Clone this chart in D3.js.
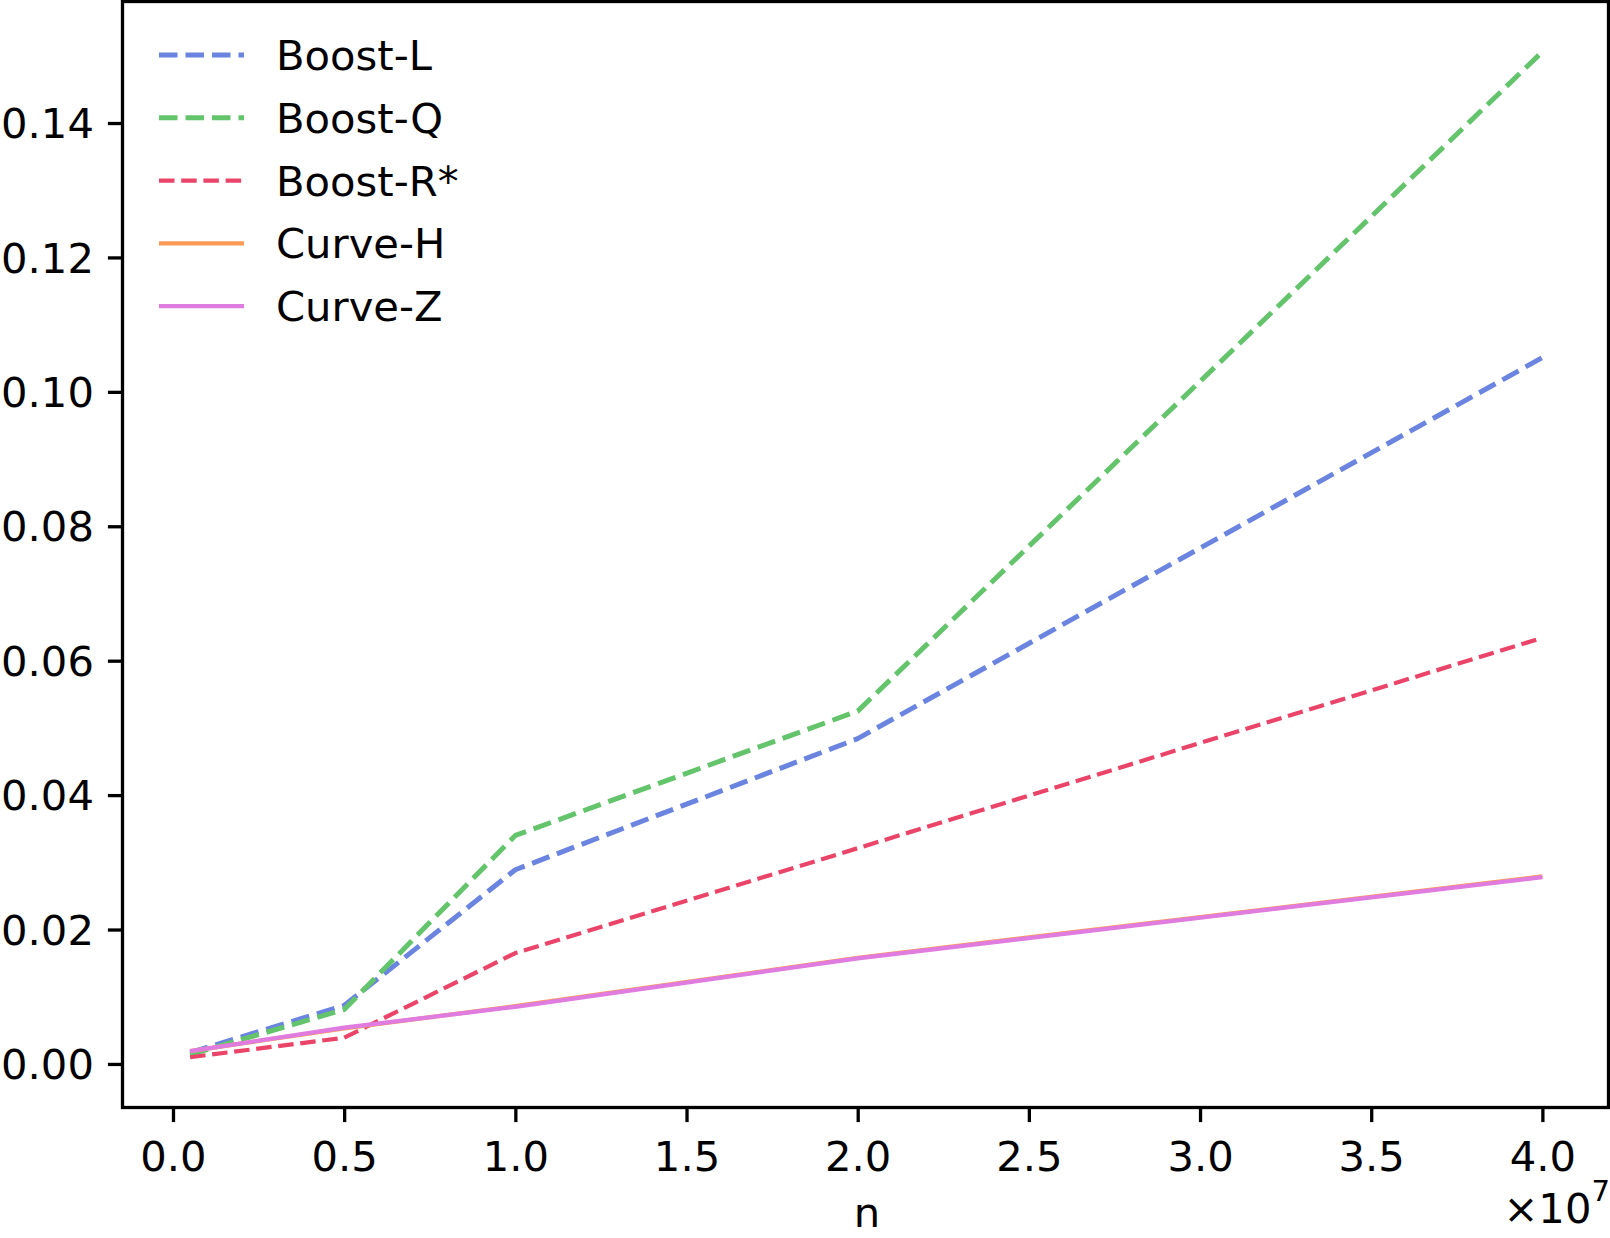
<!DOCTYPE html>
<html>
<head>
<meta charset="utf-8">
<script src="https://cdn.jsdelivr.net/npm/d3@7"></script>
<style>
    body { margin: 0; background: #fff; }
    text { font-family: "DejaVu Sans", sans-serif; fill: #000; }
</style>
</head>
<body>
<svg id="chart" width="1610" height="1238"></svg>
<script>
// data
const nValues = [500000, 5000000, 10000000, 20000000, 40000000];
const boostL = [0.0017, 0.0087, 0.0289, 0.0484, 0.1051];
const boostQ = [0.0014, 0.0081, 0.0340, 0.0525, 0.1506];
const boostR = [0.0010, 0.0039, 0.0165, 0.0321, 0.0634];
const curveH = [0.0019, 0.0053, 0.0086, 0.0158, 0.0279];
const curveZ = [0.0019, 0.0054, 0.0085, 0.0157, 0.0278];
const seriesNames = ['Boost-L', 'Boost-Q', 'Boost-R*', 'Curve-H', 'Curve-Z'];
const xTicks = [0, 5e6, 1e7, 1.5e7, 2e7, 2.5e7, 3e7, 3.5e7, 4e7];
const yTicks = [0, 0.02, 0.04, 0.06, 0.08, 0.10, 0.12, 0.14];

const styles = [
    { color: '#6a84e0', width: 5, dash: '18.5,8' },
    { color: '#64c46c', width: 5, dash: '18.5,8' },
    { color: '#ea4569', width: 4.2, dash: '15.5,6.7' },
    { color: '#fa9a55', width: 4.2, dash: null },
    { color: '#e07ce0', width: 4.2, dash: null }
];

const series = [boostL, boostQ, boostR, curveH, curveZ].map((vals, i) => ({
    name: seriesNames[i],
    style: styles[i],
    points: vals.map((v, j) => ({ x: nValues[j], y: v }))
}));

const box = { left: 122.5, right: 1610, top: 1.5, bottom: 1107.5 },
    fontSize = 41.7,
    tickLen = 14.6,
    d3svg = d3.select('#chart');

function padded(lo, hi) {
    const m = (hi - lo) * 0.05;
    return [lo - m, hi + m];
}

const allY = series.flatMap(s => s.points.map(p => p.y));

const x = d3.scaleLinear()
    .domain(padded(d3.min(nValues), d3.max(nValues)))
    .range([box.left, box.right]);

const y = d3.scaleLinear()
    .domain(padded(d3.min(allY), d3.max(allY)))
    .range([box.bottom, box.top]);

const line = d3.line()
    .x(d => x(d.x))
    .y(d => y(d.y));

// lines
const plot = d3svg.append('g').attr('class', 'lines');
series.forEach(s => {
    plot.append('path')
        .datum(s.points)
        .attr('d', line)
        .attr('fill', 'none')
        .attr('stroke', s.style.color)
        .attr('stroke-width', s.style.width)
        .attr('stroke-dasharray', s.style.dash)
        .attr('stroke-linejoin', 'round');
});

// axes
const xAxis = d3.axisBottom(x)
    .tickValues(xTicks)
    .tickSize(tickLen)
    .tickPadding(19)
    .tickFormat(d => (d / 1e7).toFixed(1));

const yAxis = d3.axisLeft(y)
    .tickValues(yTicks)
    .tickSize(tickLen)
    .tickPadding(14)
    .tickFormat(d3.format('.2f'));

function styleAxis(g) {
    g.select('.domain').remove();
    g.selectAll('.tick line').attr('stroke', '#000').attr('stroke-width', 3.3);
    g.selectAll('.tick text')
        .attr('font-size', fontSize)
        .attr('font-family', '"DejaVu Sans", sans-serif')
        .attr('fill', '#000');
}

d3svg.append('g')
    .attr('transform', `translate(0,${box.bottom})`)
    .call(xAxis)
    .call(styleAxis);

d3svg.append('g')
    .attr('transform', `translate(${box.left},0)`)
    .call(yAxis)
    .call(styleAxis)
    .selectAll('.tick text')
    .attr('dy', '0.35em');

// frame
d3svg.append('rect')
    .attr('x', box.left)
    .attr('y', box.top)
    .attr('width', 1608.5 - box.left)
    .attr('height', box.bottom - box.top)
    .attr('fill', 'none')
    .attr('stroke', '#000')
    .attr('stroke-width', 3.3);

// axis label + offset text
d3svg.append('text')
    .attr('x', 867)
    .attr('y', 1227)
    .attr('text-anchor', 'middle')
    .attr('font-size', fontSize)
    .text('n');

const offset = d3svg.append('text')
    .attr('x', 1610)
    .attr('y', 1223)
    .attr('text-anchor', 'end')
    .attr('font-size', fontSize);
offset.append('tspan').text('×10');
offset.append('tspan')
    .attr('dy', -22)
    .attr('font-size', fontSize * 0.7)
    .text('7');

// legend
const legend = d3svg.append('g').attr('class', 'legend');
series.forEach((s, i) => {
    const ly = 55 + i * 62.8;
    legend.append('line')
        .attr('x1', 159)
        .attr('x2', 244)
        .attr('y1', ly)
        .attr('y2', ly)
        .attr('stroke', s.style.color)
        .attr('stroke-width', s.style.width)
        .attr('stroke-dasharray', s.style.dash);
    legend.append('text')
        .attr('x', 276)
        .attr('y', ly)
        .attr('dy', '0.36em')
        .attr('font-size', fontSize)
        .text(s.name);
});
</script>
</body>
</html>
